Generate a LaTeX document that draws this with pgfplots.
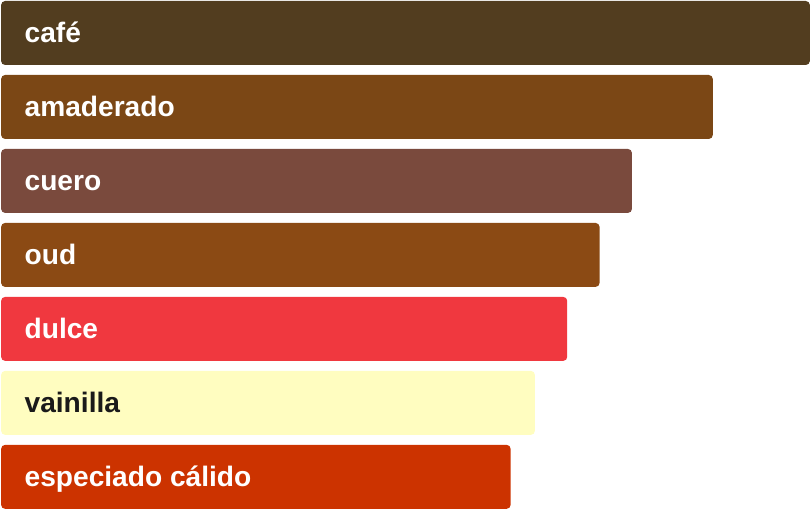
\documentclass[border=0pt]{standalone}
\usepackage{fontspec}
\setmainfont{Liberation Sans}
\usepackage{pgfplots}
\pgfplotsset{compat=1.18}

\definecolor{cafe}{HTML}{523D1F}
\definecolor{madera}{HTML}{7B4715}
\definecolor{cuero}{HTML}{7A4A3D}
\definecolor{oud}{HTML}{8B4A14}
\definecolor{dulce}{HTML}{F0383F}
\definecolor{vainilla}{HTML}{FFFDC0}
\definecolor{especia}{HTML}{CC3300}
\definecolor{txtdark}{HTML}{1A1A1A}

\begin{document}
\begin{tikzpicture}
\begin{axis}[
  scale only axis,
  width=607.5pt, height=381.75pt,
  xmin=-0.12, xmax=100,
  ymin=-0.4459, ymax=6.4324,
  y dir=reverse,
  clip=false,
  axis line style={draw=none},
  major tick length=0pt,
  xtick=\empty,
  ytick={0,1,2,3,4,5,6},
  yticklabels={
    \textcolor{white}{café},
    \textcolor{white}{amaderado},
    \textcolor{white}{cuero},
    \textcolor{white}{oud},
    \textcolor{white}{dulce},
    \textcolor{txtdark}{vainilla},
    \textcolor{white}{especiado cálido}},
  yticklabel style={anchor=base west, inner sep=0pt, xshift=18.2pt, yshift=-7.1pt,
    font=\fontsize{21.1}{24}\selectfont\bfseries},
  axis on top,
  xbar, bar shift=0pt, bar width=0.8649,
  every axis plot/.append style={draw=none, rounded corners=3pt},
]
\addplot[fill=cafe] coordinates {(100,0)};
\addplot[fill=madera] coordinates {(88,1)};
\addplot[fill=cuero] coordinates {(78,2)};
\addplot[fill=oud] coordinates {(74,3)};
\addplot[fill=dulce] coordinates {(70,4)};
\addplot[fill=vainilla] coordinates {(66,5)};
\addplot[fill=especia] coordinates {(63,6)};
\end{axis}
\end{tikzpicture}
\end{document}
